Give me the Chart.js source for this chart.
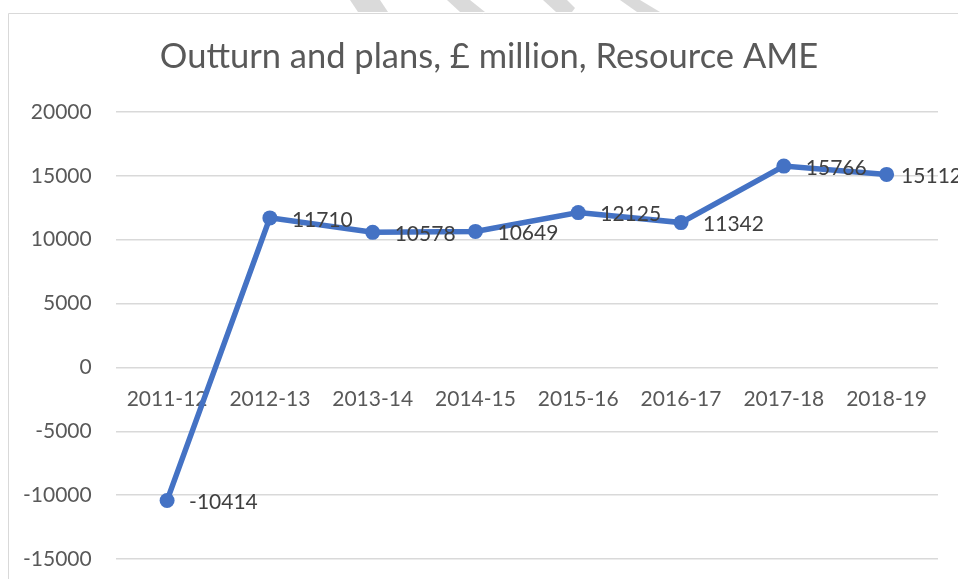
<!DOCTYPE html>
<html>
<head>
<meta charset="utf-8">
<title>Outturn and plans, Resource AME</title>
<script src="https://cdn.jsdelivr.net/npm/chart.js@4.4.1/dist/chart.umd.min.js"></script>
<style>
  html, body { margin: 0; padding: 0; background: #ffffff; }
  canvas { display: block; }
</style>
</head>
<body>
<canvas id="ame-chart" width="958" height="579"></canvas>
<script>
'use strict';

// *************** DATA
let years = ['2011-12', '2012-13', '2013-14', '2014-15', '2015-16', '2016-17', '2017-18', '2018-19'];
let ameValues = [-10414, 11710, 10578, 10649, 12125, 11342, 15766, 15112];
let yTicks = [-15000, -10000, -5000, 0, 5000, 10000, 15000, 20000];
let chartTitle = 'Outturn and plans, £ million, Resource AME';

let ctx = document.getElementById('ame-chart');

// *************** PLUGINS
// light frame, watermark bits over the top, and the title
// (the excel chart is wider than the crop, so the title sits right of centre)
let framePlugin = {
  id: 'frame',
  beforeDraw(chart) {
    let c = chart.ctx;
    c.save();
    c.fillStyle = '#dadada';
    let stripes = [
      [[350, 0], [380, 0], [388, 12], [358, 12]],
      [[447, 0], [470, 0], [485, 12], [460, 12]],
      [[543, 0], [567, 0], [575, 8], [572, 12], [556, 12]],
      [[620, 0], [640, 0], [660, 12], [637, 12]]
    ];
    stripes.forEach(function (s) {
      c.beginPath();
      c.moveTo(s[0][0], s[0][1]);
      for (let i = 1; i < s.length; i++) {
        c.lineTo(s[i][0], s[i][1]);
      }
      c.closePath();
      c.fill();
    });
    c.strokeStyle = '#d9d9d9';
    c.lineWidth = 1;
    c.beginPath();
    c.moveTo(8.5, chart.height);
    c.lineTo(8.5, 13.5);
    c.lineTo(chart.width, 13.5);
    c.stroke();

    c.font = '34.5px Lato';
    c.fillStyle = '#595959';
    c.textAlign = 'center';
    c.textBaseline = 'alphabetic';
    c.fillText(chartTitle, 489, 68);
    c.restore();
  }
};

// value labels to the right of each point
let valueLabels = {
  id: 'valueLabels',
  afterDatasetsDraw(chart) {
    let c = chart.ctx;
    let meta = chart.getDatasetMeta(0);
    c.save();
    c.font = '21px Lato';
    c.fillStyle = '#404040';
    c.textAlign = 'left';
    c.textBaseline = 'middle';
    meta.data.forEach(function (pt, i) {
      let txt = String(chart.data.datasets[0].data[i]);
      let w = c.measureText(txt).width;
      let x = Math.min(pt.x + 22, 962 - w);
      c.fillText(txt, x, pt.y + 2);
    });
    c.restore();
  }
};

// *************** CHART
let chartObj = {
  type: 'line',
  data: {
    labels: years,
    datasets: [{
      label: 'Resource AME',
      data: ameValues,
      borderColor: '#4472c4',
      backgroundColor: '#4472c4',
      borderWidth: 5.5,
      pointRadius: 7.5,
      pointHoverRadius: 7.5,
      pointBorderWidth: 0,
      tension: 0,
      clip: false
    }]
  },
  options: {
    responsive: false,
    animation: false,
    layout: {
      padding: { top: 112, left: 19, right: 20, bottom: 20 }
    },
    plugins: {
      legend: { display: false },
      tooltip: { enabled: false },
      title: { display: false }
    },
    scales: {
      x: {
        position: { y: 0 },
        offset: true,
        grid: { display: false, drawTicks: false },
        border: { display: false },
        ticks: {
          color: '#595959',
          font: { family: 'Lato', size: 21 },
          padding: 19,
          maxRotation: 0
        },
        afterFit(scale) {
          scale.height = 0;
        }
      },
      y: {
        min: yTicks[0],
        max: yTicks[yTicks.length - 1],
        afterBuildTicks(scale) {
          scale.ticks = yTicks.map(function (v) { return { value: v }; });
        },
        grid: {
          color: '#d9d9d9',
          lineWidth: 1.5,
          drawTicks: true,
          tickLength: 20,
          tickColor: 'rgba(0,0,0,0)'
        },
        border: { display: false },
        ticks: {
          color: '#595959',
          font: { family: 'Lato', size: 21 },
          padding: 4,
          callback: function (v) { return String(v); }
        }
      }
    }
  },
  plugins: [framePlugin, valueLabels]
};

new Chart(ctx, chartObj); // eslint-disable-line
</script>
</body>
</html>
